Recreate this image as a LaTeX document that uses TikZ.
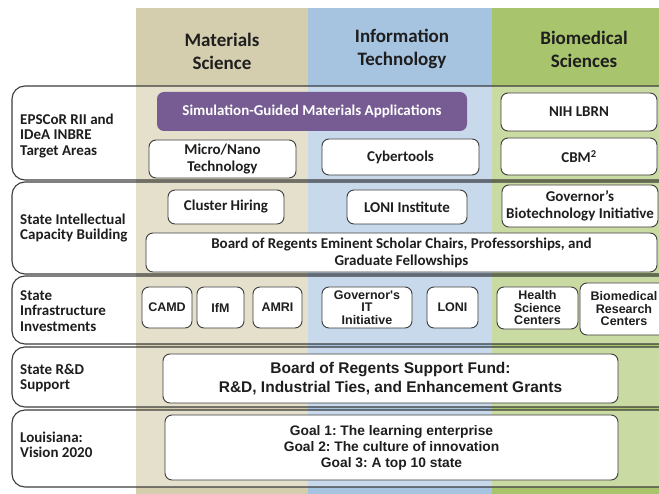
\documentclass[tikz,border=0pt]{standalone}
\usepackage{fontspec}
\setmainfont{Carlito}
\newfontfamily\arialfont{Liberation Sans}
\frenchspacing

\definecolor{tanhead}{HTML}{D4CDAE}
\definecolor{bluehead}{HTML}{A6C3E0}
\definecolor{greenhead}{HTML}{A8C46C}
\definecolor{purplebox}{HTML}{765C92}
\definecolor{linegray}{HTML}{3C3C3C}
\definecolor{textgray}{HTML}{1E1E1E}

\tikzset{
	rowbox/.style={draw=linegray, line width=1.1pt, rounded corners=13pt, fill=white, fill opacity=0.38},
	rowlabel/.style={anchor=west, align=left, inner sep=0pt, text=textgray, font=\fontsize{15}{15.5}\selectfont\bfseries},
	header/.style={align=center, text=textgray, font=\fontsize{19}{23}\selectfont\bfseries},
	itembox/.style={draw=linegray, line width=0.9pt, rounded corners=7pt, fill=white, align=center, inner sep=0pt, text=textgray, font=\fontsize{15}{17}\selectfont\bfseries},
	arialbox/.style={itembox, font=\arialfont\fontsize{12.5}{12.5}\selectfont\bfseries}
}

\begin{document}
\begin{tikzpicture}[x=1pt, y=-1pt]
			\path[use as bounding box, clip] (0, 0) rectangle (659, 494);
			\fill[white] (0, 0) rectangle (659, 494);
			
			% columns
			\fill[tanhead] (136, 8) rectangle (308, 494);
			\fill[bluehead] (308, 8) rectangle (492, 494);
			\fill[greenhead] (492, 8) rectangle (659, 494);
			
			\node[header] (matsci) at (222, 51) {Materials\\Science};
			\node[header] (infotech) at (402, 49) {Information\\Technology};
			\node[header] (biomed) at (584, 49) {Biomedical\\Sciences};
			
			% rows
			\draw[rowbox] (12, 86) rectangle (690, 180);
			\draw[rowbox] (12, 182) rectangle (690, 274);
			\draw[rowbox] (12, 276) rectangle (690, 344);
			\draw[rowbox] (12, 347) rectangle (690, 407);
			\draw[rowbox] (12, 410) rectangle (690, 487);
			
			\node[rowlabel] (epscor) at (20, 136) {EPSCoR RII and\\IDeA INBRE\\Target Areas};
			\node[rowlabel] (capacity) at (20, 228) {State Intellectual\\Capacity Building};
			\node[rowlabel] (infra) at (20, 311) {State\\Infrastructure\\Investments};
			\node[rowlabel] (rdsupport) at (20, 378) {State R\&D\\Support};
			\node[rowlabel] (vision) at (20, 445) {Louisiana:\\Vision 2020};
			
			% target areas
			\node[itembox, draw=none, fill=purplebox, text=white, minimum width=310, minimum height=39] (simguided) at (312, 111.5) {Simulation-Guided Materials Applications};
			\node[itembox, minimum width=147, minimum height=38] (micronano) at (222.5, 159) {Micro/Nano\\Technology};
			\node[itembox, minimum width=157, minimum height=36] (cybertools) at (400.5, 157) {Cybertools};
			\node[itembox, minimum width=156, minimum height=38] (nihlbrn) at (579, 112) {NIH LBRN};
			\node[itembox, minimum width=156, minimum height=37] (cbm) at (579, 156.5) {CBM\textsuperscript{2}};
			
			% capacity building
			\node[itembox, minimum width=116, minimum height=34] (cluster) at (226, 207) {Cluster Hiring};
			\node[itembox, minimum width=120, minimum height=34] (loniinst) at (407, 207) {LONI Institute};
			\node[itembox, minimum width=156, minimum height=42] (govbio) at (580, 206) {Governor's\\Biotechnology Initiative};
			\node[itembox, minimum width=511, minimum height=39] (eminent) at (401.5, 252.5) {Board of Regents Eminent Scholar Chairs, Professorships, and\\Graduate Fellowships};
			
			% infrastructure
			\node[arialbox, minimum width=50, minimum height=41] (camd) at (167, 307.5) {CAMD};
			\node[arialbox, minimum width=47, minimum height=41] (ifm) at (220.5, 307.5) {IfM};
			\node[arialbox, minimum width=49, minimum height=41] (amri) at (277.5, 307.5) {AMRI};
			\node[arialbox, minimum width=90, minimum height=41] (govit) at (367, 307.5) {Governor's\\IT\\Initiative};
			\node[arialbox, minimum width=51, minimum height=41] (loni) at (452.5, 307.5) {LONI};
			\node[arialbox, minimum width=81, minimum height=42] (hsc) at (537.5, 308) {Health\\Science\\Centers};
			\node[arialbox, minimum width=88, minimum height=52] (brc) at (624, 309) {Biomedical\\Research\\Centers};
			
			% support and vision
			\node[arialbox, font=\arialfont\fontsize{15.5}{19}\selectfont\bfseries, minimum width=455, minimum height=49] (supportfund) at (390.5, 378.5) {Board of Regents Support Fund:\\R\&D, Industrial Ties, and Enhancement Grants};
			\node[arialbox, font=\arialfont\fontsize{13.8}{16}\selectfont\bfseries, minimum width=453, minimum height=65] (goals) at (391.5, 447.5) {Goal 1: The learning enterprise\\Goal 2: The culture of innovation\\Goal 3: A top 10 state};
			\end{tikzpicture}
\end{document}
